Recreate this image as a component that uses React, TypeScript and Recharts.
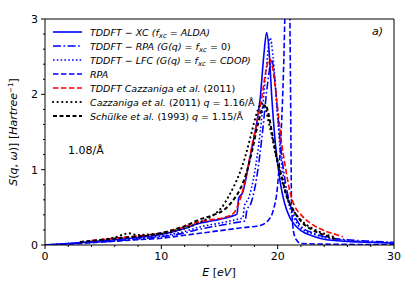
import { LineChart, Line, XAxis, YAxis, ReferenceLine } from 'recharts';

// energies (eV) and S(q,w) values
const aldaE = [0, 2, 4, 6, 8, 10, 12, 13.3, 14, 15, 16, 16.5, 16.65, 17.0, 17.4, 17.8, 18.2, 18.5, 18.8, 19.05, 19.25, 19.5, 19.8, 20.2, 20.6, 21, 21.35, 22, 23, 24.2, 27, 30];
const aldaS = [0, 0.02, 0.045, 0.07, 0.1, 0.14, 0.22, 0.29, 0.31, 0.34, 0.38, 0.41, 0.62, 0.7, 0.98, 1.3, 1.62, 1.95, 2.5, 2.82, 2.6, 1.95, 1.35, 0.85, 0.55, 0.38, 0.29, 0.19, 0.12, 0.07, 0.04, 0.025];

const rpaG0E = [0, 2, 4, 6, 8, 10, 12, 13.3, 15, 16.5, 17.2, 17.35, 17.7, 18.2, 18.7, 19.1, 19.5, 19.75, 20, 20.3, 20.7, 21.1, 21.6, 22, 23, 24, 26, 28, 30];
const rpaG0S = [0, 0.015, 0.035, 0.055, 0.08, 0.11, 0.16, 0.21, 0.26, 0.3, 0.32, 0.46, 0.55, 0.9, 1.5, 2.1, 2.45, 2.2, 1.75, 1.25, 0.8, 0.52, 0.34, 0.25, 0.16, 0.11, 0.07, 0.05, 0.035];

const cdopE = [0, 2, 4, 6, 8, 10, 12, 13.3, 15, 16.5, 17.0, 17.15, 17.5, 18, 18.5, 19, 19.35, 19.6, 19.9, 20.2, 20.6, 21, 21.5, 22, 23, 24, 26, 28, 30];
const cdopS = [0, 0.02, 0.04, 0.06, 0.09, 0.12, 0.18, 0.24, 0.29, 0.34, 0.36, 0.52, 0.62, 0.95, 1.5, 2.3, 2.75, 2.5, 1.9, 1.3, 0.8, 0.52, 0.33, 0.22, 0.15, 0.1, 0.06, 0.04, 0.03];

const rpaE = [0, 2, 4, 6, 8, 10, 12, 13.3, 15, 17, 18.5, 19.2, 19.6, 20.0, 20.3, 20.5, 20.65, 20.85, 21.0, 21.1, 21.2, 21.4, 21.7, 22, 25, 30];
const rpaS = [0, 0.01, 0.03, 0.05, 0.07, 0.09, 0.13, 0.155, 0.19, 0.23, 0.26, 0.33, 0.45, 0.8, 1.5, 2.3, 3.2, 4.0, 3.6, 2.2, 0.5, 0.15, 0.05, 0.02, 0.01, 0.005];

const cazTheoE = [4, 6, 8, 10, 12, 13.3, 14.5, 15.5, 16.2, 16.8, 17.3, 17.7, 18.2, 18.6, 19.0, 19.3, 19.6, 19.9, 20.3, 20.7, 21.2, 22.2, 23, 24, 25, 25.6];
const cazTheoS = [0.06, 0.09, 0.12, 0.16, 0.24, 0.31, 0.34, 0.37, 0.42, 0.62, 0.92, 1.25, 1.62, 1.92, 2.32, 2.47, 2.32, 1.95, 1.4, 1.0, 0.62, 0.37, 0.27, 0.19, 0.14, 0.11];

const cazExpE = [5, 6, 7.2, 8, 9, 10, 12, 13.3, 14.5, 15.2, 15.8, 16.3, 16.8, 17.3, 17.8, 18.2, 18.6, 18.9, 19.2, 19.6, 19.9, 20.3, 20.7, 21.2, 22, 23, 24, 25];
const cazExpS = [0.07, 0.1, 0.155, 0.13, 0.14, 0.15, 0.22, 0.3, 0.4, 0.5, 0.65, 0.8, 0.98, 1.22, 1.52, 1.75, 1.88, 1.85, 1.65, 1.38, 1.15, 0.9, 0.68, 0.5, 0.33, 0.22, 0.15, 0.1];

const schulkeE = [3, 5, 7, 9, 10, 12, 13.3, 14.5, 15.5, 16.2, 16.8, 17.3, 17.8, 18.3, 18.7, 18.95, 19.2, 19.5, 19.8, 20.2, 20.8, 21.4, 22.1, 23, 24, 25.2];
const schulkeS = [0.04, 0.07, 0.1, 0.13, 0.16, 0.25, 0.34, 0.4, 0.48, 0.6, 0.75, 0.95, 1.25, 1.6, 1.82, 1.86, 1.75, 1.5, 1.25, 1.0, 0.64, 0.45, 0.3, 0.2, 0.13, 0.07];

const xTicks = [0, 2, 4, 6, 8, 10, 12, 14, 16, 18, 20, 22, 24, 26, 28, 30];
const yTicks = [0, 0.2, 0.4, 0.6, 0.8, 1, 1.2, 1.4, 1.6, 1.8, 2, 2.2, 2.4, 2.6, 2.8, 3];

const rows = (es: number[], ss: number[]) => es.map((E, i) => ({ E, S: ss[i] }));

const series = [
  { key: 'alda', data: rows(aldaE, aldaS), color: '#0000ff', dash: undefined, width: 1.6, cap: 'butt' },
  { key: 'rpaG0', data: rows(rpaG0E, rpaG0S), color: '#0000ff', dash: '8 2.5 1.6 2.5', width: 1.6, cap: 'butt' },
  { key: 'cdop', data: rows(cdopE, cdopS), color: '#0000ff', dash: '1.6 2.2', width: 1.6, cap: 'butt' },
  { key: 'rpa', data: rows(rpaE, rpaS), color: '#0000ff', dash: '5.5 2.5', width: 1.6, cap: 'butt' },
  { key: 'cazTheo', data: rows(cazTheoE, cazTheoS), color: '#ff0000', dash: '5.5 2.5', width: 1.6, cap: 'butt' },
  { key: 'cazExp', data: rows(cazExpE, cazExpS), color: '#000000', dash: '0.1 4.5', width: 2.2, cap: 'round' },
  { key: 'schulke', data: rows(schulkeE, schulkeS), color: '#000000', dash: '4 2.5', width: 2, cap: 'butt' },
];

const FONT = '"DejaVu Sans", sans-serif';

const XTick = ({ x, y, payload }: any) => {
  const major = payload.value % 10 === 0;
  return (
    <g>
      <line x1={x} x2={x} y1={y} y2={y + (major ? 4 : 2)} stroke="#000" strokeWidth={1} />
      {major && (
        <text x={x} y={y + 15} textAnchor="middle" fontSize={11} fontFamily={FONT} fill="#000">
          {payload.value}
        </text>
      )}
    </g>
  );
};

const YTick = ({ x, y, payload }: any) => {
  const v = payload.value;
  const major = Math.abs(v - Math.round(v)) < 1e-6;
  return (
    <g>
      <line x1={x} x2={x - (major ? 4 : 2)} y1={y} y2={y} stroke="#000" strokeWidth={1} />
      {major && (
        <text x={x - 7} y={y + 4} textAnchor="end" fontSize={11} fontFamily={FONT} fill="#000">
          {Math.round(v)}
        </text>
      )}
    </g>
  );
};

const legendRows = [
  { s: 0, label: <><tspan fontStyle="italic">TDDFT − XC (f</tspan><tspan fontStyle="italic" fontSize={7} dy={2}>xc</tspan><tspan fontStyle="italic" dy={-2}> = ALDA)</tspan></> },
  { s: 1, label: <><tspan fontStyle="italic">TDDFT − RPA (G(q) = f</tspan><tspan fontStyle="italic" fontSize={7} dy={2}>xc</tspan><tspan dy={-2}> = 0)</tspan></> },
  { s: 2, label: <><tspan fontStyle="italic">TDDFT − LFC (G(q) = f</tspan><tspan fontStyle="italic" fontSize={7} dy={2}>xc</tspan><tspan fontStyle="italic" dy={-2}> = CDOP)</tspan></> },
  { s: 3, label: <tspan fontStyle="italic">RPA</tspan> },
  { s: 4, label: <><tspan fontStyle="italic">TDDFT Cazzaniga et al.</tspan><tspan>  (2011)</tspan></> },
  { s: 5, label: <><tspan fontStyle="italic">Cazzaniga et al.</tspan><tspan>  (2011) </tspan><tspan fontStyle="italic">q</tspan><tspan> = 1.16/Å</tspan></> },
  { s: 6, label: <><tspan fontStyle="italic">Schülke et al.</tspan><tspan>  (1993) </tspan><tspan fontStyle="italic">q</tspan><tspan> = 1.15/Å</tspan></> },
];

export default function App() {
  return (
    <div style={{ position: 'absolute', left: 0, top: 0, width: 416, height: 292, background: '#fff' }}>
      <LineChart width={416} height={292} margin={{ top: 19, right: 22, bottom: 0, left: 0 }}>
        <XAxis
          type="number"
          dataKey="E"
          domain={[0, 30]}
          ticks={xTicks}
          interval={0}
          height={47}
          tickSize={0}
          tickMargin={0}
          tickLine={false}
          tick={<XTick />}
          axisLine={{ stroke: '#000' }}
          allowDuplicatedCategory={false}
        />
        <YAxis
          type="number"
          domain={[0, 3]}
          ticks={yTicks}
          interval={0}
          width={45}
          tickSize={0}
          tickMargin={0}
          tickLine={false}
          tick={<YTick />}
          axisLine={{ stroke: '#000' }}
          allowDataOverflow
        />
        <ReferenceLine y={3} stroke="#000" strokeWidth={1} />
        <ReferenceLine x={30} stroke="#000" strokeWidth={1} />
        {series.map((s) => (
          <Line
            key={s.key}
            data={s.data}
            dataKey="S"
            type="monotone"
            stroke={s.color}
            strokeWidth={s.width}
            strokeDasharray={s.dash}
            strokeLinecap={s.cap as any}
            dot={false}
            activeDot={false}
            isAnimationActive={false}
          />
        ))}
      </LineChart>
      <svg width={416} height={292} style={{ position: 'absolute', left: 0, top: 0, pointerEvents: 'none' }} fontFamily={FONT}>
        {legendRows.map((r, i) => {
          const s = series[r.s];
          const y = 32 + i * 14;
          return (
            <g key={i}>
              <line x1={53} x2={82} y1={y} y2={y} stroke={s.color} strokeWidth={s.width} strokeDasharray={s.dash} strokeLinecap={s.cap as any} />
              <text x={90} y={y + 3.5} fontSize={9.5} fill="#000">{r.label}</text>
            </g>
          );
        })}
        <text x={68} y={154} fontSize={11} fill="#000">1.08/Å</text>
        <text x={372} y={35} fontSize={11} fontStyle="italic" fill="#000">a)</text>
        <text x={219} y={276} fontSize={11} textAnchor="middle" fill="#000">
          <tspan fontStyle="italic">E</tspan><tspan> [</tspan><tspan fontStyle="italic">eV</tspan><tspan>]</tspan>
        </text>
        <text transform="translate(17,132) rotate(-90)" fontSize={11} textAnchor="middle" fill="#000">
          <tspan fontStyle="italic">S</tspan><tspan>(</tspan><tspan fontStyle="italic">q</tspan><tspan>, </tspan><tspan fontStyle="italic">ω</tspan><tspan>)] [</tspan><tspan fontStyle="italic">Hartree</tspan><tspan fontSize={7} dy={-4}>−1</tspan><tspan dy={4}>]</tspan>
        </text>
      </svg>
    </div>
  );
}
